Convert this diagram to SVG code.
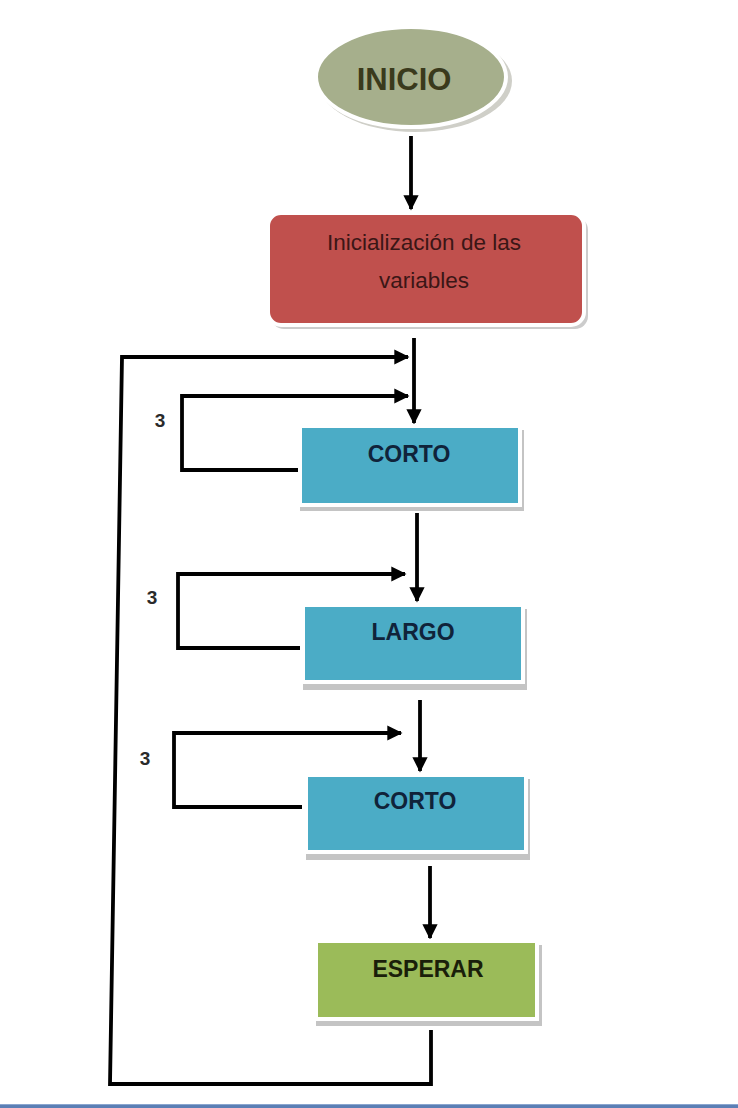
<svg xmlns="http://www.w3.org/2000/svg" width="738" height="1108" viewBox="0 0 738 1108">
<defs>
<style>
.conn{fill:none;stroke:#000;stroke-width:3.8;stroke-linejoin:miter}
.box{stroke:#fff;stroke-width:4}
.shadow{fill:#c4c4c4}
.lbl{font-family:"Liberation Sans",Arial,sans-serif;font-weight:bold;text-anchor:middle}
.num{font-family:"Liberation Sans",Arial,sans-serif;font-weight:bold;font-size:19px;fill:#2a2a2a}
.txt{font-family:"Liberation Sans",Arial,sans-serif;font-size:22.5px;fill:#3b1616;text-anchor:middle}
</style>
<marker id="ah" viewBox="0 0 10 10" refX="9" refY="5" markerWidth="4" markerHeight="4.2" orient="auto" markerUnits="strokeWidth">
<path d="M0,0 L10,5 L0,10 z" fill="#000"/>
</marker>
</defs>
<rect width="738" height="1108" fill="#fff"/>
<rect x="0" y="1104" width="738" height="4" fill="#5b7fb5"/>
<rect x="0" y="1104" width="738" height="1" fill="#8aa6cf"/>

<g id="connectors">
<path class="conn" d="M411,136 L411,209" marker-end="url(#ah)"/>
<path class="conn" d="M414,338 L414,423" marker-end="url(#ah)"/>
<path class="conn" d="M431,1030 L431,1084 L110,1084 L122,357 L408,357" marker-end="url(#ah)"/>
<path class="conn" d="M298,470 L182,470 L182,396 L408,396" marker-end="url(#ah)"/>
<path class="conn" d="M417,513 L417,601" marker-end="url(#ah)"/>
<path class="conn" d="M300,648 L178,648 L178,574 L405,574" marker-end="url(#ah)"/>
<path class="conn" d="M420,700 L420,771" marker-end="url(#ah)"/>
<path class="conn" d="M302,807 L174,807 L174,733 L401,733" marker-end="url(#ah)"/>
<path class="conn" d="M430,866 L430,938" marker-end="url(#ah)"/>
</g>

<g id="inicio">
<ellipse cx="415" cy="81" rx="97" ry="51" fill="#cfcfc8"/>
<ellipse cx="411" cy="77" rx="95" ry="50" fill="#a6af8c" stroke="#fff" stroke-width="4"/>
<text class="lbl" x="404" y="90" font-size="31" fill="#3a3a1c">INICIO</text>
</g>

<g id="init">
<rect x="271" y="217" width="317" height="112" rx="13" fill="#cccccc"/>
<rect x="268" y="213" width="316" height="112" rx="13" fill="#c0504d" class="box"/>
<text class="txt" x="424" y="250">Inicialización de las</text>
<text class="txt" x="424" y="288">variables</text>
</g>

<g id="corto1">
<rect class="shadow" x="300" y="430" width="224" height="81"/>
<rect x="300" y="426" width="220" height="79" fill="#4bacc6" class="box"/>
<text class="lbl" x="409" y="462" font-size="23" fill="#10233a">CORTO</text>
</g>
<text class="num" x="160" y="427" text-anchor="middle">3</text>

<g id="largo">
<rect class="shadow" x="303" y="609" width="224" height="81"/>
<rect x="303" y="605" width="220" height="77" fill="#4bacc6" class="box"/>
<text class="lbl" x="413" y="640" font-size="23" fill="#10233a">LARGO</text>
</g>
<text class="num" x="152" y="604" text-anchor="middle">3</text>

<g id="corto2">
<rect class="shadow" x="306" y="779" width="224" height="81"/>
<rect x="306" y="775" width="220" height="77" fill="#4bacc6" class="box"/>
<text class="lbl" x="415" y="809" font-size="23" fill="#10233a">CORTO</text>
</g>
<text class="num" x="145" y="765" text-anchor="middle">3</text>

<g id="esperar">
<rect class="shadow" x="316" y="945" width="226" height="81"/>
<rect x="316" y="941" width="221" height="78" fill="#9bbb59" class="box"/>
<text class="lbl" x="428" y="977" font-size="23" fill="#1a1f0a">ESPERAR</text>
</g>
</svg>
